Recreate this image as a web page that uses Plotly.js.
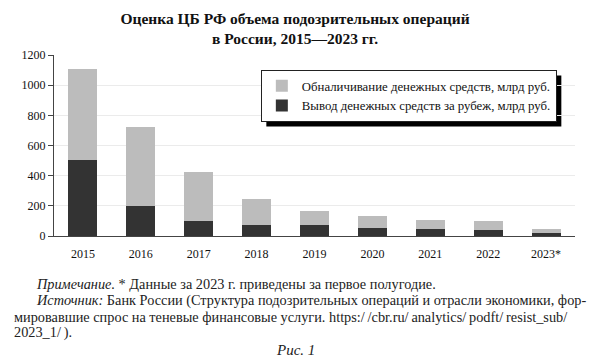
<!DOCTYPE html>
<html><head><meta charset="utf-8">
<script src="https://cdn.plot.ly/plotly-3.0.1.min.js"></script>
<style>html,body{margin:0;padding:0;background:#fff}</style>
</head><body>
<div id="chart" style="width:590px;height:357px"></div>
<script>
var years = ["2015","2016","2017","2018","2019","2020","2021","2022","2023*"];
var abroad = [505, 200, 100, 70, 70, 55, 48, 40, 18];
var cashout = [605, 525, 324, 176, 93, 77, 60, 61, 30];
var yTicks = [0, 200, 400, 600, 800, 1000, 1200];
var nameAbroad = "Вывод денежных средств за рубеж, млрд руб.";
var nameCash = "Обналичивание денежных средств, млрд руб.";
var titleText = "<b>Оценка ЦБ РФ объема подозрительных операций<br>в России, 2015—2023 гг.</b>";
var noteLines = [
  "<i>Примечание.</i> * Данные за 2023 г. приведены за первое полугодие.",
  "<i>Источник:</i> Банк России (Структура подозрительных операций и отрасли экономики, фор-",
  "мировавшие спрос на теневые финансовые услуги. https:/\u2009/cbr.ru/\u2009analytics/\u2009podft/\u2009resist_sub/",
  "2023_1/\u2009)."
];
var figText = "<i>Рис. 1</i>";

var serif = "Liberation Serif";
var traces = [
  {type:"bar", x:years, y:abroad, name:nameAbroad, marker:{color:"#333333", line:{width:0}}},
  {type:"bar", x:years, y:cashout, name:nameCash, marker:{color:"#bcbcbc", line:{width:0}}}
];
var noteFont = {family:serif, size:14.3, color:"#222"};
var annotations = [
  {xref:"paper", yref:"paper", x:-0.038, y:-0.265, xanchor:"left", yanchor:"middle", showarrow:false, text:noteLines[0], font:noteFont},
  {xref:"paper", yref:"paper", x:-0.038, y:-0.355, xanchor:"left", yanchor:"middle", showarrow:false, text:noteLines[1], font:noteFont},
  {xref:"paper", yref:"paper", x:-0.081, y:-0.445, xanchor:"left", yanchor:"middle", showarrow:false, text:noteLines[2], font:noteFont},
  {xref:"paper", yref:"paper", x:-0.081, y:-0.533, xanchor:"left", yanchor:"middle", showarrow:false, text:noteLines[3], font:noteFont},
  {xref:"paper", yref:"paper", x:0.4626, y:-0.63, xanchor:"center", yanchor:"middle", showarrow:false, text:figText, font:{family:serif, size:15, color:"#222"}}
];
var layout = {
  width:590, height:357,
  margin:{l:54, r:15, t:55, b:121},
  paper_bgcolor:"#fff", plot_bgcolor:"#fff",
  barmode:"stack", bargap:0.5,
  showlegend:true,
  title:{text:titleText, font:{family:serif, size:15.5, color:"#111"}, x:0.5, xanchor:"center", y:0.933, yanchor:"middle"},
  xaxis:{type:"category", showline:true, linecolor:"#444", linewidth:1.2, ticks:"", showgrid:false, ticklabelstandoff:6,
    tickfont:{family:serif, size:12, color:"#111"}, fixedrange:true},
  yaxis:{range:[0,1200], tickvals:yTicks, ticktext:yTicks.map(String), showline:true, linecolor:"#444", linewidth:1.2,
    ticks:"outside", ticklen:5, tickcolor:"#444", gridcolor:"#ebebeb", gridwidth:1, zeroline:false,
    tickfont:{family:serif, size:12, color:"#111"}},
  legend:{x:0.397, xanchor:"left", y:0.917, yanchor:"top", bgcolor:"#fff", bordercolor:"#222", borderwidth:1,
    font:{family:serif, size:12.8, color:"#111"}, traceorder:"reversed", tracegroupgap:0},
  annotations:annotations
};
var gd = document.getElementById("chart");
Plotly.newPlot(gd, traces, layout, {displayModeBar:false, staticPlot:true}).then(function(){
  var bg = gd.querySelector(".legend .bg");
  if (!bg) return;
  var r = bg.getBoundingClientRect(), c = gd.getBoundingClientRect();
  var s = gd._fullLayout._size;
  var off = 5;
  function px(x){ return (x - c.left - s.l) / s.w; }
  function py(y){ return 1 - (y - c.top - s.t) / s.h; }
  return Plotly.relayout(gd, {shapes:[{type:"rect", xref:"paper", yref:"paper",
    x0:px(r.left + off), x1:px(r.right + off), y0:py(r.bottom + off), y1:py(r.top + off),
    fillcolor:"#000", line:{width:0}, layer:"below"}]});
});
</script>
</body></html>
